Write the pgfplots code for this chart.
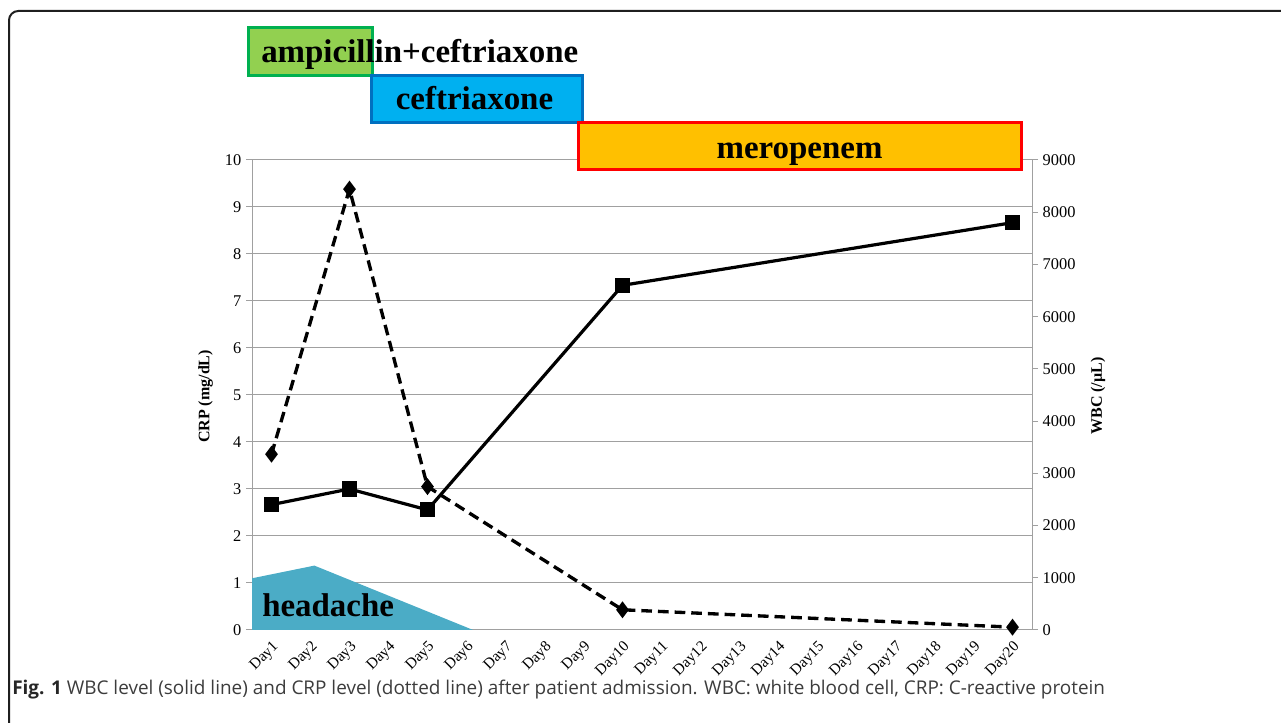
\documentclass[border=0pt]{standalone}
\usepackage{fontspec}
\setmainfont{Liberation Serif}
\newfontfamily\capfont{Open Sans}
\usepackage{pgfplots}
\pgfplotsset{compat=1.18}
\definecolor{gridgray}{RGB}{160,160,160}
\definecolor{headc}{RGB}{75,172,198}
\definecolor{grfill}{RGB}{146,208,80}
\definecolor{grdraw}{RGB}{0,176,80}
\definecolor{cyfill}{RGB}{0,176,240}
\definecolor{cydraw}{RGB}{0,112,192}
\definecolor{orfill}{RGB}{255,192,0}
\definecolor{ordraw}{RGB}{255,0,0}
\definecolor{capgray}{RGB}{60,60,60}
\begin{document}
\begin{tikzpicture}[x=0.75pt,y=0.75pt]
\path[use as bounding box] (0,0) rectangle (1281,723);
\draw[line width=1.5pt, black!88, rounded corners=7pt] (9,-5) -- (9,712) -- (1290,712);
\pgfplotsset{common/.style={
  scale only axis, width=585pt, height=352.5pt,
  at={(189pt,69.75pt)}, anchor=south west,
  xmin=0.5, xmax=20.5, clip=false,
  /pgf/number format/assume math mode=true,
  tick align=outside,
  axis line style={gridgray, line width=0.75pt, -},
  tick style={gridgray, line width=0.75pt},
  major tick length=4.5pt,
  yticklabel style={font=\fontsize{12.3}{14}\selectfont, text=black},
}}
\begin{axis}[common,
  ymin=0, ymax=10, ytick={0,1,...,10},
  axis y line*=left, axis x line*=bottom,
  ymajorgrids, grid style={gridgray, line width=0.75pt},
  xtick={1,...,20},
  xticklabels={Day1,Day2,Day3,Day4,Day5,Day6,Day7,Day8,Day9,Day10,Day11,Day12,Day13,Day14,Day15,Day16,Day17,Day18,Day19,Day20},
  x tick style={draw=none},
  minor xtick={0.5,1.5,...,20.5},
  minor tick length=4.5pt,
  minor x tick style={gridgray, line width=0.75pt},
  xticklabel style={font=\fontsize{11.5}{13}\selectfont, rotate=45, anchor=north east, inner sep=2pt, text=black},
]
\addplot[fill=headc, draw=none] coordinates {(0.5,0) (0.5,1.1) (2.1,1.37) (6.17,0)} -- cycle;
\addplot[black, line width=2.5pt, dash pattern=on 8pt off 4.5pt, mark=diamond*, mark size=4.3pt, mark options={solid}]
 coordinates {(1,3.74) (3,9.38) (5,3.05) (10,0.43) (20,0.06)};
\end{axis}
\begin{axis}[common,
  ymin=0, ymax=9000, ytick={0,1000,...,9000},
  axis y line*=right, axis x line=none,
  /pgf/number format/1000 sep={},
]
\addplot[black, line width=2.4pt, mark=square*, mark size=4.5pt]
 coordinates {(1,2400) (3,2700) (5,2300) (10,6600) (20,7800)};
\end{axis}
% headache label
\node[anchor=base west, inner sep=0pt, font=\fontsize{24.7}{28}\selectfont\bfseries] at (262,106) {headache};
% axis titles
\node[rotate=90, font=\fontsize{12}{14}\selectfont\bfseries] at (205.5,326.5) {CRP (mg/dL)};
\node[rotate=90, font=\fontsize{12}{14}\selectfont\bfseries] at (1098,327) {WBC (/µL)};
% drug boxes
\draw[line width=2.25pt, draw=grdraw, fill=grfill] (248,695) rectangle (372,647);
\draw[line width=2.25pt, draw=cydraw, fill=cyfill] (371,647) rectangle (582,600);
\draw[line width=2.25pt, draw=ordraw, fill=orfill] (578,600) rectangle (1021,553);
\node[anchor=base west, inner sep=0pt, font=\fontsize{24.7}{28}\selectfont\bfseries] at (261,660) {ampicillin+ceftriaxone};
\node[anchor=base, inner sep=0pt, font=\fontsize{24.7}{28}\selectfont\bfseries] at (474.5,613) {ceftriaxone};
\node[anchor=base, inner sep=0pt, font=\fontsize{24.7}{28}\selectfont\bfseries] at (799.5,564) {meropenem};
% caption
\node[anchor=base west, inner sep=0pt, font=\capfont\fontsize{14.2}{16}\selectfont, text=capgray] at (12,28.5) {{\bfseries\color{black!85}Fig. 1} WBC level (solid line) and CRP level (dotted line) after patient admission. WBC: white blood cell, CRP: C-reactive protein};
\end{tikzpicture}
\end{document}
